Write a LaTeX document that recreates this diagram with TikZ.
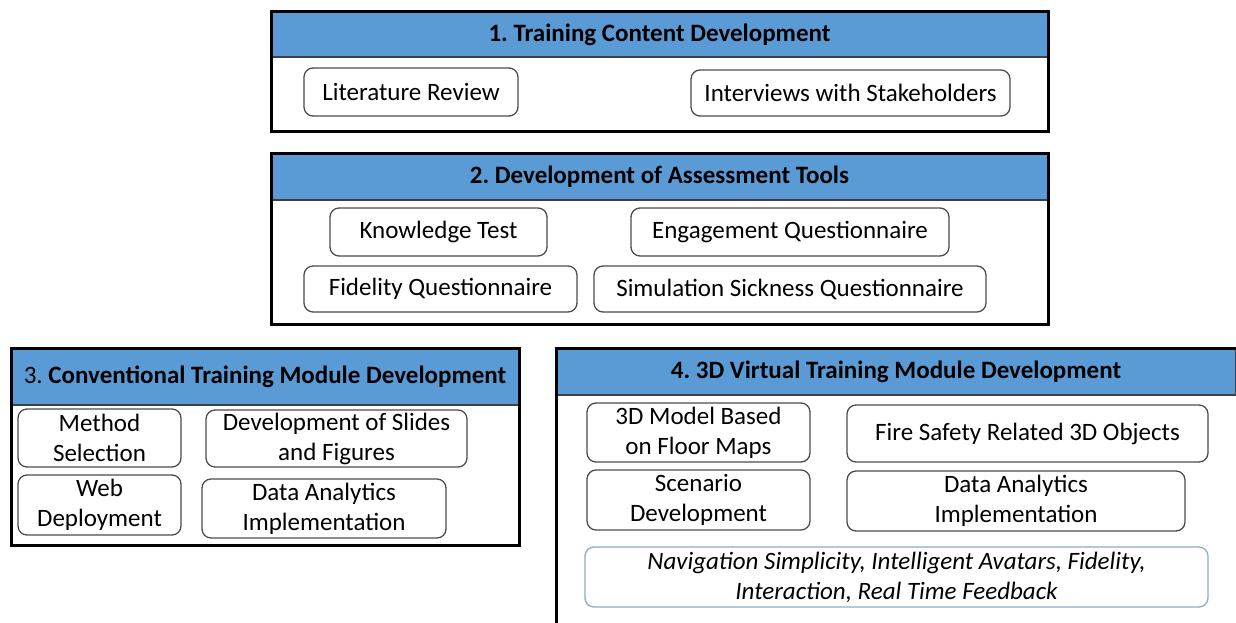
\documentclass[tikz,border=0pt]{standalone}
\usepackage{fontspec}
\setmainfont{Carlito}
\usepackage{xcolor}
\usepackage{tikz}
\usetikzlibrary{positioning}
\definecolor{headblue}{HTML}{5B9BD5}
\definecolor{noteblue}{HTML}{8EAAC8}
\newcommand{\bodyfont}{\fontsize{25}{30}\selectfont}
\frenchspacing

\begin{document}
\begin{tikzpicture}[x=1pt, y=-1pt]
  % Styles
  \tikzstyle{frame}=[draw=black, line width=3pt, inner sep=0pt]
  \tikzstyle{head}=[fill=headblue, draw=black!75, line width=1.2pt, inner sep=0pt, font=\bodyfont\bfseries]
  \tikzstyle{item}=[draw=black!70, line width=1.3pt, rounded corners=9pt, align=center, inner sep=0pt, font=\bodyfont]
  \tikzstyle{note}=[item, draw=noteblue, font=\bodyfont\itshape]

  \useasboundingbox (0,0) rectangle (1236,623);
  \clip (0,0) rectangle (1236,623);

  % Panel 1: training content
  \node[head, minimum width=777pt, minimum height=45pt] (p1_head) at (659.5,34.5) {1. Training Content Development};
  \node[frame, minimum width=777pt, minimum height=120pt] (p1) at (659.5,72) {};
  \node[item, minimum width=214pt, minimum height=48pt] (p1_lit) at (411,92) {Literature Review};
  \node[item, minimum width=319pt, minimum height=46pt] (p1_int) at (850.5,93) {Interviews with Stakeholders};

  % Panel 2: assessment tools
  \node[head, minimum width=777pt, minimum height=47pt] (p2_head) at (659.5,176.5) {2. Development of Assessment Tools};
  \node[frame, minimum width=777pt, minimum height=171pt] (p2) at (659.5,238.5) {};
  \node[item, minimum width=217pt, minimum height=48pt] (p2_know) at (438.5,232) {Knowledge Test};
  \node[item, minimum width=318pt, minimum height=48pt] (p2_eng) at (790,232) {Engagement Questionnaire};
  \node[item, minimum width=273pt, minimum height=46pt] (p2_fid) at (440.5,289) {Fidelity Questionnaire};
  \node[item, minimum width=392pt, minimum height=46pt] (p2_sick) at (790,289) {Simulation Sickness Questionnaire};

  % Panel 3: conventional module
  \node[head, minimum width=508pt, minimum height=57pt] (p3_head) at (265,376.5) {\mdseries 3. \bfseries Conventional Training Module Development};
  \node[frame, minimum width=508pt, minimum height=197pt] (p3) at (265,446.5) {};
  \node[item, minimum width=163pt, minimum height=58pt] (p3_meth) at (99.5,438) {Method\\Selection};
  \node[item, minimum width=261pt, minimum height=57pt] (p3_slide) at (336.5,438.5) {Development of Slides\\and Figures};
  \node[item, minimum width=163pt, minimum height=60pt] (p3_web) at (99.5,505) {Web\\Deployment};
  \node[item, minimum width=244pt, minimum height=59pt] (p3_data) at (324,508.5) {Data Analytics\\Implementation};

  % Panel 4: 3D virtual module (runs past the page edge)
  \node[head, minimum width=680pt, minimum height=47pt] (p4_head) at (896,371.5) {4. 3D Virtual Training Module Development};
  \node[frame, minimum width=686pt, minimum height=302pt] (p4) at (899,499) {};
  \node[item, minimum width=223pt, minimum height=59pt] (p4_model) at (698.5,432.5) {3D Model Based\\on Floor Maps};
  \node[item, minimum width=361pt, minimum height=57pt] (p4_fire) at (1027.5,433.5) {Fire Safety Related 3D Objects};
  \node[item, minimum width=223pt, minimum height=60pt] (p4_scen) at (698.5,500) {Scenario\\Development};
  \node[item, minimum width=338pt, minimum height=60pt] (p4_data) at (1016,501) {Data Analytics\\Implementation};
  \node[note, minimum width=623pt, minimum height=60pt] (p4_note) at (896.5,577) {Navigation Simplicity, Intelligent Avatars, Fidelity,\\Interaction, Real Time Feedback};
\end{tikzpicture}
\end{document}
